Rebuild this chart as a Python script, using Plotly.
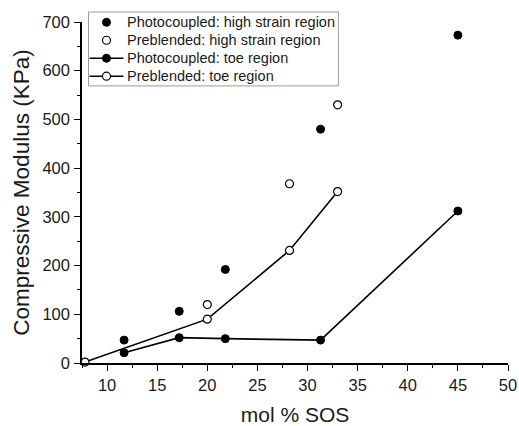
import plotly.graph_objects as go

# Data
pc_high_x = [11.7, 17.2, 21.8, 31.3, 45.0]
pc_high_y = [47, 106, 192, 480, 673]

pb_high_x = [20.0, 28.2, 33.0]
pb_high_y = [120, 368, 530]

pc_toe_x = [11.7, 17.2, 21.8, 31.3, 45.0]
pc_toe_y = [21, 52, 50, 47, 312]

pb_toe_x = [7.8, 20.0, 28.2, 33.0]
pb_toe_y = [2, 90, 231, 352]

names = ["Photocoupled: high strain region",
         "Preblended: high strain region",
         "Photocoupled: toe region",
         "Preblended: toe region"]

FONT = "Liberation Sans, Arial, sans-serif"
TXT = "#1a1a1a"

W, H = 519, 426
ML, MR, MT, MB = 81.5, 11.3, 22, 62.5
PW, PH = W - ML - MR, H - MT - MB


def px(xp):
    return (xp - ML) / PW


def py(yp):
    return (H - MB - yp) / PH


filled = dict(size=8, color="black", line=dict(color="black", width=1))
hollow = dict(size=8, color="white", line=dict(color="black", width=1.2))

fig = go.Figure()
fig.add_trace(go.Scatter(x=pc_high_x, y=pc_high_y, mode="markers", marker=filled,
                         name=names[0], cliponaxis=False))
fig.add_trace(go.Scatter(x=pb_high_x, y=pb_high_y, mode="markers", marker=hollow,
                         name=names[1], cliponaxis=False))
fig.add_trace(go.Scatter(x=pc_toe_x, y=pc_toe_y, mode="lines+markers", marker=filled,
                         line=dict(color="black", width=1.6), name=names[2], cliponaxis=False))
fig.add_trace(go.Scatter(x=pb_toe_x, y=pb_toe_y, mode="lines+markers", marker=hollow,
                         line=dict(color="black", width=1.6), name=names[3], cliponaxis=False))

# Hand-built legend box (to match the compact row spacing of the original)
shapes = [dict(type="rect", xref="paper", yref="paper",
               x0=px(88), x1=px(338), y0=py(86), y1=py(12),
               line=dict(color="#9a9a9a", width=1), fillcolor="white", layer="above")]
annotations = []
row_y = [22.3, 40.3, 58.3, 76.3]
sym_x = px(106)
for i, name in enumerate(names):
    yc = py(row_y[i])
    if i >= 2:
        shapes.append(dict(type="line", xref="paper", yref="paper",
                           x0=px(89), x1=px(123), y0=yc, y1=yc,
                           line=dict(color="black", width=1.6), layer="above"))
    is_filled = i in (0, 2)
    shapes.append(dict(type="circle", xref="paper", yref="paper",
                       xsizemode="pixel", ysizemode="pixel",
                       xanchor=sym_x, yanchor=yc, x0=-4, x1=4, y0=-4, y1=4,
                       fillcolor="black" if is_filled else "white",
                       line=dict(color="black", width=1 if is_filled else 1.2),
                       layer="above"))
    annotations.append(dict(text=name, xref="paper", yref="paper",
                            x=px(125), y=yc, xanchor="left", yanchor="middle",
                            showarrow=False,
                            font=dict(size=14.5, family=FONT, color=TXT)))

fig.update_layout(
    width=W, height=H,
    margin=dict(l=ML, r=MR, t=MT, b=MB, autoexpand=False),
    paper_bgcolor="white", plot_bgcolor="white",
    font=dict(family=FONT, color=TXT),
    showlegend=False,
    shapes=shapes,
    annotations=annotations,
)
fig.update_xaxes(
    range=[7.5, 50], tickvals=[10, 15, 20, 25, 30, 35, 40, 45, 50],
    automargin=False,
    showgrid=False, zeroline=False, showline=True, linecolor="black", linewidth=1.5,
    ticks="outside", ticklen=6, tickwidth=1.2, tickcolor="black",
    tickfont=dict(size=16.5, family=FONT, color=TXT),
    minor=dict(tickvals=[7.5, 12.5, 17.5, 22.5, 27.5, 32.5, 37.5, 42.5, 47.5],
               ticks="outside", ticklen=3, tickwidth=1, tickcolor="black"),
    title=dict(text="mol % SOS", font=dict(size=21, family=FONT, color=TXT), standoff=18),
)
fig.update_yaxes(
    range=[0, 700], tickvals=[0, 100, 200, 300, 400, 500, 600, 700],
    automargin=False,
    showgrid=False, zeroline=False, showline=True, linecolor="black", linewidth=1.5,
    ticks="outside", ticklen=6, tickwidth=1.2, tickcolor="black",
    ticklabelstandoff=1,
    tickfont=dict(size=16.5, family=FONT, color=TXT),
    minor=dict(tickvals=[50, 150, 250, 350, 450, 550, 650],
               ticks="outside", ticklen=3, tickwidth=1, tickcolor="black"),
    title=dict(text="Compressive Modulus (KPa)", font=dict(size=22.5, family=FONT, color=TXT), standoff=7),
)

fig.write_html("out.html", config={"displayModeBar": False},
               post_script="document.body.style.margin='0';")
